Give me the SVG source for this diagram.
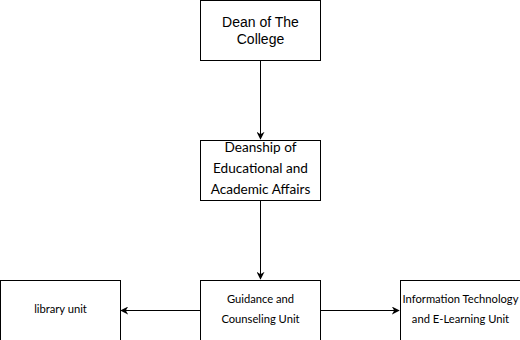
<svg xmlns="http://www.w3.org/2000/svg" width="520" height="340" viewBox="0 0 520 340">
<style>
.box{fill:#fff;stroke:#000;stroke-width:1}
.edge{fill:none;stroke:#000;stroke-width:1}
.t1{font-family:"Liberation Sans",Arial,sans-serif;font-size:14px;text-anchor:middle;fill:#000}
.t2{font-family:Lato,"Open Sans",sans-serif;font-size:13.6px;text-anchor:middle;fill:#000}
.t3{font-family:Lato,"Open Sans",sans-serif;font-size:11.2px;text-anchor:middle;fill:#000}
</style>
<defs>
<marker id="arr" viewBox="0 0 10 10" refX="9" refY="5" markerWidth="8" markerHeight="8" orient="auto" markerUnits="userSpaceOnUse">
<path d="M0,0 L10,5 L0,10 L3,5 Z" fill="#000"/>
</marker>
</defs>
<rect width="520" height="340" fill="#fff"/>
<g id="connectors">
<path class="edge" d="M260.5,60 L260.5,139" marker-end="url(#arr)"/>
<path class="edge" d="M260.5,200 L260.5,279" marker-end="url(#arr)"/>
<path class="edge" d="M200,310.5 L121,310.5" marker-end="url(#arr)"/>
<path class="edge" d="M320,310.5 L399,310.5" marker-end="url(#arr)"/>
</g>
<g id="dean">
<rect class="box" x="200.5" y="0.5" width="120" height="60"/>
<text class="t1" x="260.5" y="27">Dean of The</text>
<text class="t1" x="260.5" y="44">College</text>
</g>
<g id="deanship">
<rect class="box" x="200.5" y="140.5" width="120" height="60"/>
<text class="t2" x="260.5" y="152">Deanship of</text>
<text class="t2" x="260.5" y="173">Educational and</text>
<text class="t2" x="260.5" y="194">Academic Affairs</text>
</g>
<g id="library">
<rect class="box" x="0.5" y="280.5" width="120" height="60"/>
<text class="t3" x="60.5" y="313">library unit</text>
</g>
<g id="guidance">
<rect class="box" x="200.5" y="280.5" width="120" height="60"/>
<text class="t3" x="260.5" y="303">Guidance and</text>
<text class="t3" x="260.5" y="323">Counseling Unit</text>
</g>
<g id="it">
<rect class="box" x="400.5" y="280.5" width="120" height="60"/>
<text class="t3" x="460.5" y="303">Information Technology</text>
<text class="t3" x="460.5" y="323">and E-Learning Unit</text>
</g>
</svg>
